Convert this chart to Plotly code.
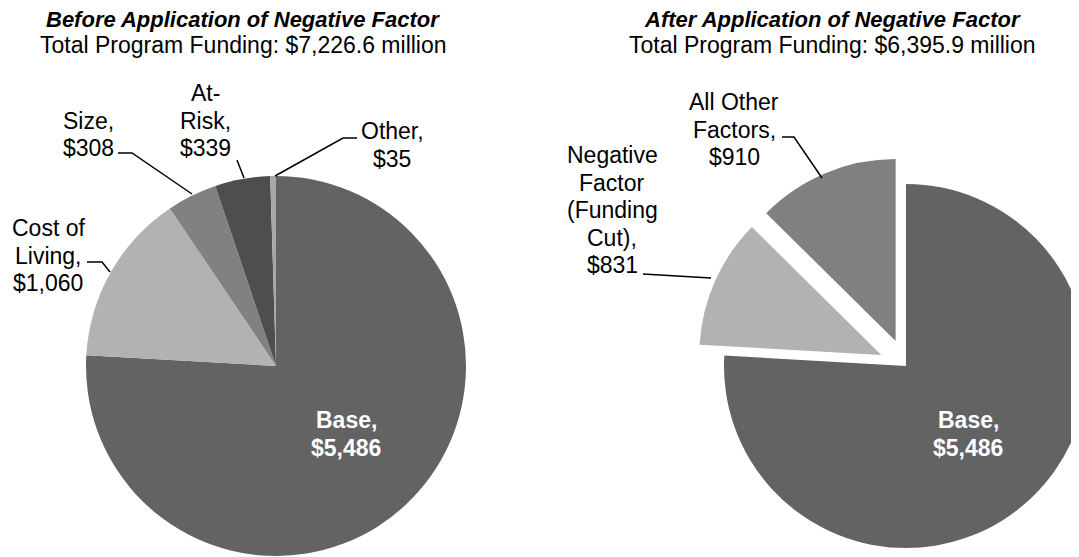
import math
import plotly.graph_objects as go

W, H = 1100, 557
OFF = 8  # the page puts the figure 8 px in from the top-left corner
FONT = "Liberation Sans, Arial, sans-serif"

# ---- data ----
before_labels = ["Base", "Cost of Living", "Size", "At-Risk", "Other"]
before_lines = [["Base,"], ["Cost of", "Living,"], ["Size,"], ["At-", "Risk,"], ["Other,"]]
before_values = [5486, 1060, 308, 339, 35]
before_total = 7226.6

after_labels = ["Base", "Negative Factor (Funding Cut)", "All Other Factors"]
after_lines = [["Base,"], ["Negative", "Factor", "(Funding", "Cut),"], ["All Other", "Factors,"]]
after_values = [5486, 831, 910]
after_total = 6395.9
after_exploded = [False, True, True]

# ---- styles / layout (screen px) ----
before_colors = ["#636363", "#b2b2b2", "#818181", "#4e4e4e", "#a8a8a8"]
after_colors = ["#636363", "#b2b2b2", "#808080"]

L_CX, L_CY, L_R = 276, 366, 190
R_CX, R_CY, R_R = 906, 366, 182
EXPLODE = 27

# first-line centre of each label
before_label_pos = [(346, 420), (48, 228), (88, 121), (205, 93), (392, 131)]
after_label_pos = [(968, 420), (612, 155), (734, 102)]
LINE_H = 27.5

before_leaders = [None, [(87, 262), (102, 262), (110, 272)], [(118, 153), (132, 153), (192, 194)],
                  [(237, 160), (244, 178)], [(357, 138), (343, 138), (275, 176)]]
after_leaders = [None, [(643, 274), (711, 278)], [(782, 137), (794, 137), (822, 178)]]


def px(x):
    return (x - OFF) / W


def py(y):
    return 1 - (y - OFF) / H


def dom(cx, cy, r):
    return dict(x=[px(cx - r), px(cx + r)], y=[py(cy + r), py(cy - r)])


fig = go.Figure()

fig.add_trace(go.Pie(
    labels=before_labels, values=before_values, sort=False, direction="clockwise", rotation=0,
    marker=dict(colors=before_colors, line=dict(width=0)), textinfo="none",
    domain=dom(L_CX, L_CY, L_R), showlegend=False,
    hovertemplate="%{label}: $%{value:,}<extra></extra>",
))

# right pie: one trace per slice so exploded slices keep full radius
tot = sum(after_values)
cum = 0
for i, v in enumerate(after_values):
    mid = (cum + v / 2) / tot * 2 * math.pi
    cum += v
    d = EXPLODE if after_exploded[i] else 0
    cx = R_CX + d * math.sin(mid)
    cy = R_CY - d * math.cos(mid)
    cols = ["rgba(0,0,0,0)"] * len(after_values)
    cols[i] = after_colors[i]
    fig.add_trace(go.Pie(
        labels=after_labels, values=after_values, sort=False, direction="clockwise", rotation=0,
        marker=dict(colors=cols, line=dict(width=0)), textinfo="none",
        domain=dom(cx, cy, R_R), showlegend=False, hoverinfo="skip",
    ))

ann = []
shapes = []


def add_label(lines, value, pos, inside=False):
    x, y = pos
    all_lines = lines + [f"${value:,}"]
    for k, t in enumerate(all_lines):
        txt = f"<b>{t}</b>" if inside else t
        ann.append(dict(x=px(x), y=py(y + k * LINE_H), xref="paper", yref="paper",
                        text=txt, showarrow=False, xanchor="center", yanchor="middle",
                        font=dict(family=FONT, size=23, color="white" if inside else "black")))


def add_leader(pts):
    path = "M " + " L ".join(f"{px(a)},{py(b)}" for a, b in pts)
    shapes.append(dict(type="path", xref="paper", yref="paper", path=path,
                       line=dict(color="black", width=1.5)))


for i in range(len(before_values)):
    add_label(before_lines[i], before_values[i], before_label_pos[i], inside=(i == 0))
    if before_leaders[i]:
        add_leader(before_leaders[i])
for i in range(len(after_values)):
    add_label(after_lines[i], after_values[i], after_label_pos[i], inside=(i == 0))
    if after_leaders[i]:
        add_leader(after_leaders[i])

titles = [
    (243, "Before Application of Negative Factor", before_total),
    (832, "After Application of Negative Factor", after_total),
]
for x, t, total in titles:
    ann.append(dict(x=px(x), y=py(19), xref="paper", yref="paper", text=f"<b><i>{t}</i></b>",
                    showarrow=False, xanchor="center", yanchor="middle", borderpad=0,
                    font=dict(family=FONT, size=22, color="black")))
    ann.append(dict(x=px(x), y=py(45), xref="paper", yref="paper",
                    text=f"Total Program Funding: ${total:,.1f} million",
                    showarrow=False, xanchor="center", yanchor="middle", borderpad=0,
                    font=dict(family=FONT, size=23, color="black")))

fig.update_layout(
    width=W, height=H,
    margin=dict(l=0, r=0, t=0, b=0),
    paper_bgcolor="white", plot_bgcolor="white",
    annotations=ann, shapes=shapes,
    font=dict(family=FONT),
)

fig.write_html("out.html")
